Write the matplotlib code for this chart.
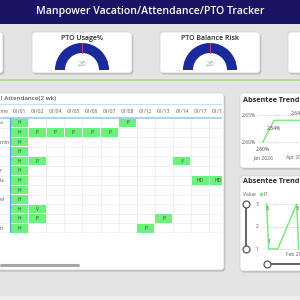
import matplotlib
matplotlib.use("Agg")
import matplotlib.pyplot as plt
from matplotlib.patches import FancyBboxPatch, Wedge, Rectangle
import pandas as pd

plt.rcParams["font.family"] = ["Open Sans", "DejaVu Sans"]

# --- data -------------------------------------------------------------------
title = "Manpower Vacation/Attendance/PTO Tracker"

kpi_titles = ["PTO Usage%", "PTO Balance Risk"]
kpi_values = [26, 26]
kpi_max = [26, 26]
kpi_target = [0.5, 0.5]

table_title = "l Attendance(2 wk)"
col_dates = ["01/01", "01/02", "01/04", "01/05", "01/06", "01/07",
             "01/08", "01/12", "01/13", "01/14", "01/17", "01/18"]
emp_names = ["Ana", "Li", "Admin", "Jo", "Ed", "Per",
             "Lola", "Bo", "Abel", "Al", "Ty", "Kim"]
status = [
    ["H", "",  "",  "",  "",  "",  "P", "",  "",  "",  "",   ""],
    ["H", "P", "P", "P", "P", "P", "",  "",  "",  "",  "",   ""],
    ["H", "",  "",  "",  "",  "",  "",  "",  "",  "",  "",   ""],
    ["H", "",  "",  "",  "",  "",  "",  "",  "",  "",  "",   ""],
    ["H", "P", "",  "",  "",  "",  "",  "",  "",  "V", "",   ""],
    ["H", "",  "",  "",  "",  "",  "",  "",  "",  "",  "",   ""],
    ["H", "",  "",  "",  "",  "",  "",  "",  "",  "",  "HD", "HD"],
    ["H", "",  "",  "",  "",  "",  "",  "",  "",  "",  "",   ""],
    ["H", "",  "",  "",  "",  "",  "",  "",  "",  "",  "",   ""],
    ["H", "V", "",  "",  "",  "",  "",  "",  "",  "",  "",   ""],
    ["H", "P", "",  "",  "",  "",  "",  "",  "P", "",  "",   ""],
    ["H", "",  "",  "",  "",  "",  "",  "P", "",  "",  "",   ""],
]

trend_months = ["Jan 2026", "Feb 2026", "Mar 2026", "Apr 2026", "May 2026"]
trend_rate = [2.60, 2.64, 2.64, 2.64, 2.64]
trend_label = ["below", "below", None, "above", None]

p_dates = ["2026-01-02", "2026-01-04", "2026-01-05", "2026-01-06", "2026-01-07",
           "2026-01-08", "2026-01-12", "2026-01-13", "2026-02-01", "2026-02-03"]
p_counts = [3, 1, 1, 1, 1, 1, 1, 1, 3, 1]
p_label = [True, True, False, False, False, False, False, False, True, False]

# --- style ------------------------------------------------------------------
NAVY = "#1b1363"
GAUGE = "#1a2a9c"
CELL = "#6cf27c"
LINE = "#7aea80"
TXT = "#2a2a2a"
MUTED = "#5a5a5a"

fig = plt.figure(figsize=(3, 3), dpi=100, facecolor="#e4e4e4")
bg = fig.add_axes([0, 0, 1, 1])
bg.set_xlim(0, 300)
bg.set_ylim(300, 0)
bg.axis("off")


def px_axes(x0, y0, x1, y1):
    ax = fig.add_axes([x0 / 300, 1 - y1 / 300, (x1 - x0) / 300, (y1 - y0) / 300])
    ax.patch.set_alpha(0)
    for s in ax.spines.values():
        s.set_visible(False)
    ax.tick_params(length=0, labelsize=3.6, labelcolor=MUTED)
    return ax


def card(x0, y0, x1, y1):
    bg.add_patch(FancyBboxPatch((x0 + 1.3, y0 + 1.6), x1 - x0, y1 - y0,
                                boxstyle="round,pad=0,rounding_size=3",
                                fc="#8c8c8c", ec="none", alpha=0.45, zorder=1))
    bg.add_patch(FancyBboxPatch((x0, y0), x1 - x0, y1 - y0,
                                boxstyle="round,pad=0,rounding_size=3",
                                fc="white", ec="#cfcfcf", lw=0.5, zorder=2))


# header bar
bg.add_patch(Rectangle((0, 0), 300, 24, fc=NAVY, ec="none", zorder=1))
bg.text(150, 11.5, title, color="white", fontsize=7.6, weight="semibold",
        ha="center", va="center", zorder=3)
bg.add_patch(Rectangle((0, 296), 300, 4, fc="#eeeeee", ec="none", zorder=0))

# KPI cards
for x0, x1 in [(-70, 3), (32, 132), (160, 260), (288, 388)]:
    card(x0, 32, x1, 73)

for i, (name, val, vmax, tgt) in enumerate(zip(kpi_titles, kpi_values, kpi_max, kpi_target)):
    cx, cy = 82 + 128 * i, 70
    frac = val / vmax
    bg.add_patch(Wedge((cx, cy), 27, 180, 180 + 180 * frac, width=10,
                       fc=GAUGE, ec="none", zorder=3))
    if frac < 1:
        bg.add_patch(Wedge((cx, cy), 27, 180 + 180 * frac, 360, width=10,
                           fc="#e0e0e0", ec="none", zorder=3))
    bg.plot([cx, cx], [cy - 27, cy - 17], color="#d0406a", lw=0.7, zorder=4)
    bg.text(cx, 39, name, fontsize=5, color=TXT, weight="semibold",
            ha="center", va="center", zorder=4)
    bg.text(cx, 65, f"{val}", fontsize=5.5, color="#a0a0a0",
            ha="center", va="center", zorder=4)

bg.axhline(80, color="#8fea6e", lw=1.1, zorder=1)

# attendance table
card(-10, 93, 224, 270)
bg.text(1, 98.5, table_title, fontsize=4.6, color=TXT, ha="left", va="center", zorder=4)
bg.plot([1, 78], [265, 265], color="#a6a6a6", lw=2.2, solid_capstyle="round", zorder=4)

colw, rowh = 18.1, 9.58
tax = px_axes(0, 104, 222, 233)
tax.set_xlim(-10 / colw, 212 / colw)
tax.set_ylim(len(status), -14 / rowh)
tax.set_xticks([])
tax.set_yticks([])
for j in range(len(col_dates) + 1):
    tax.plot([j, j], [0, len(status)], color="#ececec", lw=0.5, zorder=1)
for i in range(1, len(status)):
    tax.axhline(i, color="#ececec", lw=0.5, zorder=1)
for i, row in enumerate(status):
    for j, code in enumerate(row):
        if code:
            tax.add_patch(Rectangle((j + 0.03, i + 0.05), 0.94, 0.9,
                                    fc=CELL, ec="none", zorder=2))
            tax.text(j + 0.5, i + 0.52, code, fontsize=3.4, color="#3a3a3a",
                     ha="center", va="center", zorder=3, clip_on=True)
    tax.text(-15.5 / colw, i + 0.52, emp_names[i], fontsize=3.6, color=MUTED,
             ha="left", va="center", clip_on=True)
for j, d in enumerate(col_dates):
    tax.text(j + 0.5, -7 / rowh, d, fontsize=3.6, color=MUTED,
             ha="center", va="center", clip_on=True)
tax.text(-15.5 / colw, -7 / rowh, "Name", fontsize=3.6, color=MUTED,
         ha="left", va="center", clip_on=True)
tax.axhline(0, color="#9fd0f6", lw=1.3, zorder=4)
tax.axhline(-13.6 / rowh, color="#bfe0fa", lw=0.7, zorder=4)
tax.axhline(len(status), color="#a8d4f5", lw=1.0, zorder=4)
tax.plot([0, 0], [0, len(status)], color="#4aa0f0", lw=0.8, zorder=4)

# absentee trend (monthly)
card(240, 93, 320, 168)
bg.text(243, 101, "Absentee Trending", fontsize=5.2, weight="bold", color=TXT,
        ha="left", va="center", zorder=4)
aax = px_axes(258, 108, 330, 153)
xs = list(range(len(trend_months)))
aax.plot(xs, trend_rate, color=LINE, lw=1.1)
aax.set_xlim(-0.45, 6.09)
aax.set_ylim(2.65 - 38 * 0.05 / 27, 2.65 + 7 * 0.05 / 27)
aax.set_yticks([2.60, 2.65])
aax.set_yticklabels([f"{v:.2f}%" for v in [2.60, 2.65]])
aax.set_xticks([0, 3])
aax.set_xticklabels([trend_months[0], trend_months[3]])
aax.tick_params(axis="y", pad=1.5)
aax.tick_params(axis="x", pad=1.8)
aax.grid(axis="y", linestyle=(0, (1, 1.5)), color="#bdbdbd", lw=0.6)
for x, v, pos in zip(xs, trend_rate, trend_label):
    if pos is None:
        continue
    dy = -5.5 if pos == "below" else 5
    txt = f"{v:.2f}%" if pos == "below" else f"{v:.2f}"
    aax.annotate(txt, (x, v), xytext=(0, dy), textcoords="offset points",
                 fontsize=3.6, color="#444444", ha="center", va="center")

# absentee trend (daily P count)
card(240, 176, 320, 271)
bg.text(243, 181.7, "Absentee Trending", fontsize=5.2, weight="bold", color=TXT,
        ha="left", va="center", zorder=4)
bg.text(243, 194, "Value", fontsize=3.6, color=MUTED, ha="left", va="center", zorder=4)
bg.plot(260.7, 194, "o", ms=2.6, color=LINE, mec="none", zorder=4)
bg.text(263.5, 194, "P", fontsize=3.6, color=MUTED, ha="left", va="center", zorder=4)
bg.plot([246, 246], [204, 249], color="#555555", lw=1.3, zorder=4)
bg.plot([246, 246], [204, 249], "o", ms=5, mfc="white", mec="#555555", mew=0.9, zorder=5)
bg.plot([267, 300], [264, 264], color="#555555", lw=1.3, zorder=4)
bg.plot(267, 264, "o", ms=5, mfc="white", mec="#555555", mew=0.9, zorder=5)

bax = px_axes(263, 198, 330, 251)
dts = pd.to_datetime(p_dates)
bax.plot(dts, p_counts, color=LINE, lw=1.1)
start = dts[0] - pd.Timedelta(hours=3.7 * 24)
bax.set_xlim(start, start + pd.Timedelta(days=67))
bax.set_ylim(1 - 2 / 22.5, 3 + 6 / 22.5)
bax.set_yticks([1, 2, 3])
bax.set_yticklabels(["1", "2", "3"])
bax.set_xticks([pd.Timestamp("2026-02-01")])
bax.set_xticklabels(["Feb 2026"])
bax.tick_params(axis="y", pad=3.2)
bax.tick_params(axis="x", pad=0.6)
bax.grid(axis="y", linestyle=(0, (1, 1.5)), color="#bdbdbd", lw=0.6)
for d, v, show in zip(dts, p_counts, p_label):
    if show:
        dy = -3.2 if v == 3 else 5.5
        bax.annotate(f"{v}", (d, v), xytext=(0.5, dy), textcoords="offset points",
                     fontsize=3.6, color="#444444", ha="center", va="center")

fig.savefig("out.png", dpi=100, facecolor=fig.get_facecolor())
